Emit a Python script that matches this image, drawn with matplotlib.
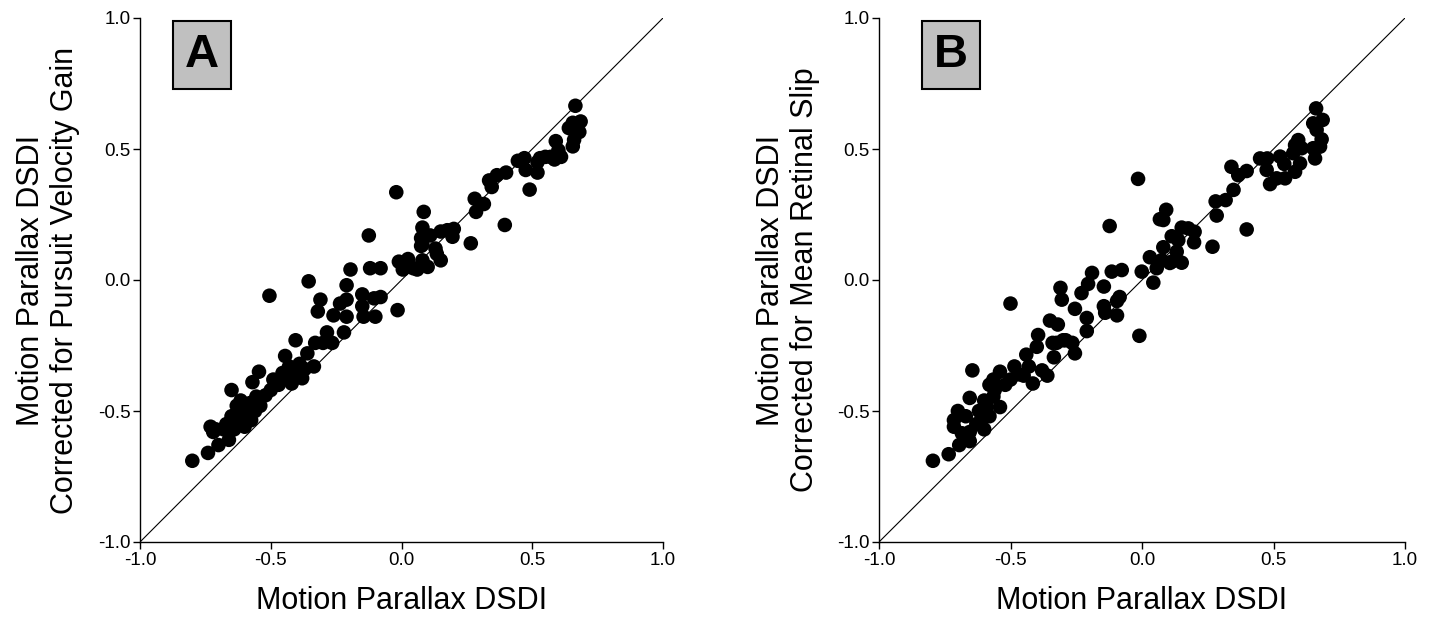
import matplotlib
matplotlib.use("Agg")
import matplotlib.pyplot as plt
from matplotlib.patches import Rectangle

plt.rcParams['font.family'] = ['Liberation Sans', 'DejaVu Sans']

# Panel A data (x: Motion Parallax DSDI, y: corrected for pursuit velocity gain)
a_x = [-0.80, -0.74, -0.70, -0.66, -0.73, -0.71, -0.72, -0.68, -0.64, -0.65, -0.63, -0.615,
       -0.65, -0.60, -0.59, -0.575, -0.54, -0.57, -0.555, -0.545, -0.50, -0.49, -0.455, -0.445,
       -0.42, -0.40, -0.38, -0.405, -0.36, -0.335, -0.33, -0.30, -0.285, -0.265, -0.22, -0.32,
       -0.31, -0.26, -0.235, -0.21, -0.21, -0.21, -0.195, -0.15, -0.15, -0.145, -0.10, -0.08,
       -0.105, -0.12, -0.08, -0.355, -0.505, -0.125, -0.015, -0.02,
       -0.62, -0.58, -0.56, -0.52, -0.47, -0.44, -0.43, -0.39, -0.37, -0.63, -0.61, -0.67,
       -0.01, 0.025, 0.005, 0.045, 0.06, 0.08, 0.10, 0.075, 0.08, 0.085, 0.075, 0.08, 0.11,
       0.15, 0.175, 0.20, 0.195, 0.135, 0.15, 0.13, 0.265, 0.28, 0.315, 0.285, 0.335, 0.345,
       0.365, 0.40, 0.395, 0.445, 0.47, 0.475, 0.49, 0.52, 0.52, 0.53, 0.55, 0.585, 0.60,
       0.61, 0.59, 0.655, 0.66, 0.68, 0.685, 0.655, 0.665, 0.57, 0.64]
a_y = [-0.69, -0.66, -0.63, -0.61, -0.56, -0.57, -0.58, -0.57, -0.57, -0.52, -0.48, -0.46,
       -0.42, -0.56, -0.51, -0.535, -0.48, -0.39, -0.445, -0.35, -0.42, -0.38, -0.355, -0.29,
       -0.395, -0.355, -0.375, -0.23, -0.28, -0.33, -0.24, -0.24, -0.20, -0.24, -0.20, -0.12,
       -0.075, -0.135, -0.09, -0.075, -0.14, -0.02, 0.04, -0.055, -0.10, -0.14, -0.14, -0.065,
       -0.07, 0.045, 0.045, -0.005, -0.06, 0.17, -0.115, 0.335,
       -0.53, -0.47, -0.50, -0.44, -0.40, -0.37, -0.33, -0.32, -0.34, -0.55, -0.50, -0.55,
       0.07, 0.08, 0.04, 0.045, 0.04, 0.075, 0.05, 0.13, 0.20, 0.26, 0.16, 0.135, 0.17,
       0.185, 0.19, 0.195, 0.165, 0.10, 0.075, 0.12, 0.14, 0.31, 0.29, 0.26, 0.38, 0.355,
       0.40, 0.41, 0.21, 0.455, 0.465, 0.42, 0.345, 0.45, 0.41, 0.465, 0.47, 0.46, 0.495,
       0.47, 0.53, 0.51, 0.535, 0.565, 0.605, 0.60, 0.665, 0.47, 0.58]

# Panel B data (x: Motion Parallax DSDI, y: corrected for mean retinal slip)
b_x = [-0.795, -0.735, -0.695, -0.655, -0.715, -0.715, -0.685, -0.655, -0.645, -0.615, -0.59,
       -0.58, -0.565, -0.54, -0.565, -0.54, -0.50, -0.485, -0.45, -0.44, -0.415, -0.40, -0.395,
       -0.38, -0.36, -0.335, -0.325, -0.30, -0.265, -0.255, -0.35, -0.32, -0.50, -0.31, -0.305,
       -0.255, -0.23, -0.205, -0.19, -0.21, -0.21, -0.145, -0.145, -0.14, -0.095, -0.085,
       -0.095, -0.115, -0.077, -0.123, -0.01, -0.015,
       -0.63, -0.62, -0.60, -0.67, -0.70, -0.56, -0.52, -0.47, -0.43, -0.60, -0.655, -0.58,
       -0.34, -0.29,
       -0.001, 0.043, 0.03, 0.056, 0.075, 0.081, 0.081, 0.068, 0.092, 0.106, 0.113, 0.113,
       0.138, 0.132, 0.151, 0.151, 0.176, 0.20, 0.198, 0.268, 0.28, 0.318, 0.284, 0.348, 0.34,
       0.366, 0.398, 0.398, 0.449, 0.476, 0.474, 0.487, 0.512, 0.525, 0.541, 0.544, 0.575,
       0.582, 0.582, 0.594, 0.601, 0.607, 0.651, 0.658, 0.677, 0.683, 0.664, 0.651, 0.687, 0.662]
b_y = [-0.69, -0.665, -0.63, -0.615, -0.535, -0.56, -0.585, -0.45, -0.345, -0.545, -0.485,
       -0.52, -0.445, -0.485, -0.38, -0.35, -0.38, -0.33, -0.365, -0.285, -0.395, -0.255, -0.21,
       -0.345, -0.365, -0.295, -0.24, -0.23, -0.24, -0.28, -0.155, -0.17, -0.09, -0.03, -0.075,
       -0.11, -0.05, -0.015, 0.027, -0.145, -0.195, -0.025, -0.10, -0.125, -0.135, -0.065,
       -0.08, 0.032, 0.038, 0.206, -0.213, 0.386,
       -0.55, -0.50, -0.57, -0.52, -0.50, -0.42, -0.40, -0.36, -0.33, -0.46, -0.58, -0.40,
       -0.24, -0.23,
       0.032, -0.01, 0.087, 0.045, 0.076, 0.125, 0.229, 0.232, 0.268, 0.065, 0.07, 0.167,
       0.152, 0.108, 0.066, 0.20, 0.197, 0.184, 0.144, 0.127, 0.30, 0.305, 0.246, 0.344, 0.432,
       0.40, 0.416, 0.193, 0.464, 0.464, 0.42, 0.366, 0.388, 0.471, 0.443, 0.388, 0.484,
       0.413, 0.515, 0.534, 0.445, 0.503, 0.503, 0.464, 0.509, 0.537, 0.573, 0.598, 0.611, 0.655]

ticks = [-1.0, -0.5, 0.0, 0.5, 1.0]
tick_labels = ["-1.0", "-0.5", "0.0", "0.5", "1.0"]
x_label = "Motion Parallax DSDI"
y_labels = ["Motion Parallax DSDI\nCorrected for Pursuit Velocity Gain",
            "Motion Parallax DSDI\nCorrected for Mean Retinal Slip"]
panel_letters = ["A", "B"]

W, H = 1437, 619
fig = plt.figure(figsize=(W / 100, H / 100), dpi=100)

axes_px = [(140, 663), (879, 1405)]
top_px, bot_px = 18, 542
boxes_px = [(173, 21, 231, 89), (922, 21, 980, 89)]
ylabel_center_px = [48, 788]
xlabel_center_y = 601

for i, (xs, ys) in enumerate([(a_x, a_y), (b_x, b_y)]):
    l, r = axes_px[i]
    ax = fig.add_axes([l / W, 1 - bot_px / H, (r - l) / W, (bot_px - top_px) / H])
    ax.set_xlim(-1, 1)
    ax.set_ylim(-1, 1)
    ax.plot([-1, 1], [-1, 1], color='black', lw=0.8, zorder=1)
    ax.scatter(xs, ys, s=110, color='black', edgecolors='none', zorder=2)
    ax.set_xticks(ticks)
    ax.set_xticklabels(tick_labels)
    ax.set_yticks(ticks)
    ax.set_yticklabels(tick_labels)
    ax.tick_params(direction='out', length=5, width=1, labelsize=13.5, pad=2)
    for s in ['top', 'right']:
        ax.spines[s].set_visible(False)
    for s in ['left', 'bottom']:
        ax.spines[s].set_linewidth(1)
    ax.set_xlabel(x_label, fontsize=22, va='center')
    ax.set_ylabel(y_labels[i], fontsize=22, linespacing=1.15, va='center')
    ax.xaxis.set_label_coords(0.5, (bot_px - xlabel_center_y) / (bot_px - top_px))
    ax.yaxis.set_label_coords((ylabel_center_px[i] - l) / (r - l), 0.5)

    x0, y0, x1, y1 = boxes_px[i]
    fig.patches.append(Rectangle((x0 / W, 1 - y1 / H), (x1 - x0) / W, (y1 - y0) / H,
                                 transform=fig.transFigure, facecolor='#c0c0c0',
                                 edgecolor='black', lw=1.5))
    fig.text((x0 + x1) / 2 / W, 1 - (y0 + y1) / 2 / H, panel_letters[i],
             ha='center', va='center', fontsize=34, fontweight='bold')

fig.savefig("out.png", dpi=100)
